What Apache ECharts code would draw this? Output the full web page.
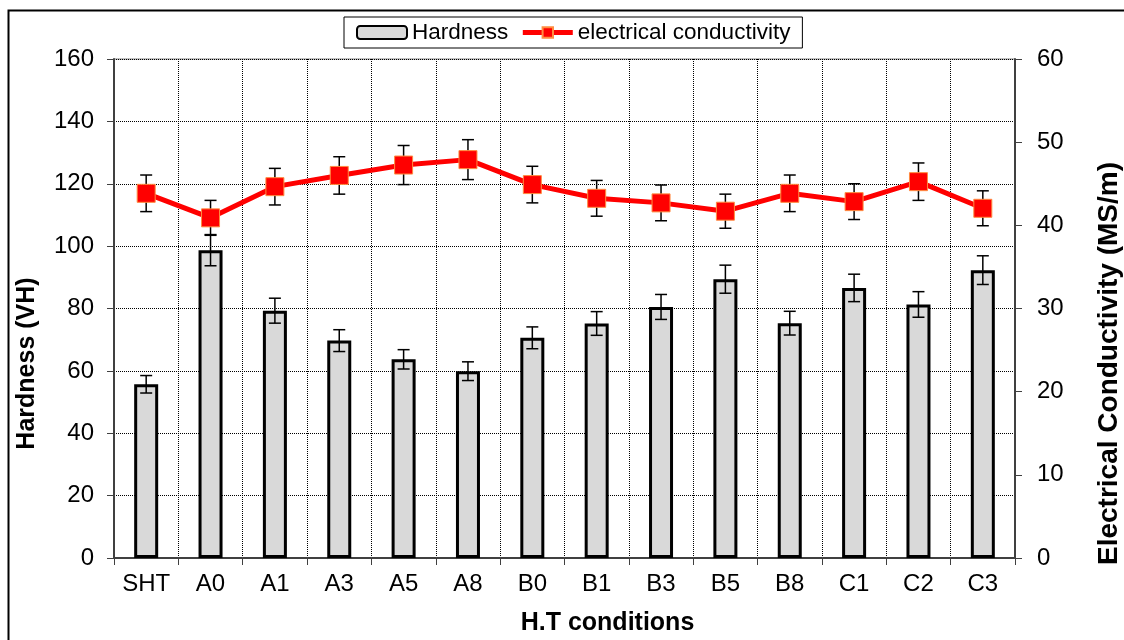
<!DOCTYPE html>
<html>
<head>
<meta charset="utf-8">
<script src="https://cdn.jsdelivr.net/npm/echarts@6/dist/echarts.min.js"></script>
<style>
html,body{margin:0;padding:0;background:#fff;}
#chart{width:1124px;height:640px;}
</style>
</head>
<body>
<div id="chart"></div>
<script>
const categories = ['SHT','A0','A1','A3','A5','A8','B0','B1','B3','B5','B8','C1','C2','C3'];
const hardness = [55.7, 98.7, 79.3, 69.7, 63.7, 59.9, 70.6, 75.2, 80.5, 89.4, 75.3, 86.6, 81.3, 92.3];
const hardnessErr = [2.8, 5.0, 4.0, 3.5, 3.1, 3.0, 3.5, 3.8, 4.0, 4.5, 3.8, 4.4, 4.1, 4.6];
const conductivity = [43.85, 40.9, 44.65, 46.0, 47.25, 47.9, 44.9, 43.25, 42.7, 41.7, 43.85, 42.85, 45.25, 42.05];
const conductivityErr = [2.2, 2.1, 2.2, 2.25, 2.35, 2.4, 2.2, 2.15, 2.15, 2.05, 2.2, 2.15, 2.25, 2.1];
const leftTicks = {min: 0, max: 160, interval: 20};
const rightTicks = {min: 0, max: 60, interval: 10};

const FONT = '"Liberation Sans", Arial, sans-serif';

function errData(vals, errs){
  return vals.map((v,i)=>[i, v - errs[i], v + errs[i]]);
}
function errRender(params, api){
  const lo = api.coord([api.value(0), api.value(1)]);
  const hi = api.coord([api.value(0), api.value(2)]);
  const x = lo[0], hw = 6;
  const st = {stroke:'#000', lineWidth:1.5};
  return {type:'group', children:[
    {type:'line', shape:{x1:x, y1:hi[1], x2:x, y2:lo[1]}, style:st},
    {type:'line', shape:{x1:x-hw, y1:hi[1], x2:x+hw, y2:hi[1]}, style:st},
    {type:'line', shape:{x1:x-hw, y1:lo[1], x2:x+hw, y2:lo[1]}, style:st}
  ]};
}

const chart = echarts.init(document.getElementById('chart'), null, {renderer:'canvas'});
const axisLine = {show:true, lineStyle:{color:'#404040', width:2}};
const splitLine = {show:true, lineStyle:{color:'#000', type:'dotted', width:1}};
chart.setOption({
  animation:false,
  backgroundColor:'#fff',
  textStyle:{fontFamily:FONT},
  graphic:[{type:'rect', left:6, top:8, shape:{width:1200, height:700}, style:{fill:'none', stroke:'#000', lineWidth:2}, z:100}],
  legend:{
    left:344, top:17,
    padding:[4,12],
    itemGap:12,
    itemWidth:50, itemHeight:13,
    backgroundColor:'#fff',
    borderColor:'#000', borderWidth:1,
    textStyle:{fontSize:22.5, color:'#000', fontFamily:FONT},
    data:[
      {name:'Hardness', itemStyle:{borderWidth:2, borderColor:'#000', color:'#d9d9d9'}},
      {name:'electrical conductivity', lineStyle:{width:5, color:'#ff0000'}}
    ]
  },
  grid:{left:114, right:109, top:59, bottom:82, show:true, borderColor:'#808080', borderWidth:1, outerBoundsMode:'none', containLabel:false},
  xAxis:{
    type:'category', data:categories, boundaryGap:true,
    name:'H.T conditions', nameLocation:'middle', nameGap:53,
    nameTextStyle:{fontSize:25, fontWeight:'bold', color:'#000', fontFamily:FONT, padding:[0,0,0,86]},
    axisLine:axisLine,
    axisTick:{show:true, alignWithLabel:false, length:7, lineStyle:{color:'#404040', width:1}},
    axisLabel:{fontSize:24, color:'#000', margin:14, interval:0, fontFamily:FONT},
    splitLine:Object.assign({interval:0}, splitLine)
  },
  yAxis:[
    {
      type:'value', min:leftTicks.min, max:leftTicks.max, interval:leftTicks.interval,
      name:'Hardness (VH)', nameLocation:'middle', nameGap:74, nameRotate:90,
      nameTextStyle:{fontSize:25, fontWeight:'bold', color:'#000', fontFamily:FONT, padding:[0,110,0,0]},
      axisLine:axisLine,
      axisTick:{show:true, length:7, lineStyle:{color:'#404040', width:1}},
      axisLabel:{fontSize:24, color:'#000', margin:20, fontFamily:FONT},
      splitLine:splitLine
    },
    {
      type:'value', min:rightTicks.min, max:rightTicks.max, interval:rightTicks.interval,
      position:'right',
      name:'Electrical Conductivity (MS/m)', nameLocation:'middle', nameGap:80, nameRotate:90,
      nameTextStyle:{fontSize:28, fontWeight:'bold', color:'#000', fontFamily:FONT, padding:[0,110,0,0]},
      axisLine:axisLine,
      axisTick:{show:true, length:7, lineStyle:{color:'#404040', width:1}},
      axisLabel:{fontSize:24, color:'#000', margin:22, fontFamily:FONT},
      splitLine:{show:false}
    }
  ],
  series:[
    {
      name:'Hardness', type:'bar', data:hardness, yAxisIndex:0, barWidth:24, z:1,
      itemStyle:{color:'#d9d9d9', borderColor:'#000', borderWidth:3}
    },
    {
      name:'hardErr', type:'custom', yAxisIndex:0, z:3,
      data:errData(hardness, hardnessErr), renderItem:errRender,
      encode:{x:0, y:[1,2]}
    },
    {
      name:'condErr', type:'custom', yAxisIndex:1, z:2,
      data:errData(conductivity, conductivityErr), renderItem:errRender,
      encode:{x:0, y:[1,2]}
    },
    {
      name:'electrical conductivity', type:'line', data:conductivity, yAxisIndex:1, z:4,
      symbol:'rect', symbolSize:18,
      lineStyle:{color:'#ff0000', width:5},
      itemStyle:{color:'#ff0000', borderColor:'#ff8c40', borderWidth:1}
    }
  ]
});
</script>
</body>
</html>
